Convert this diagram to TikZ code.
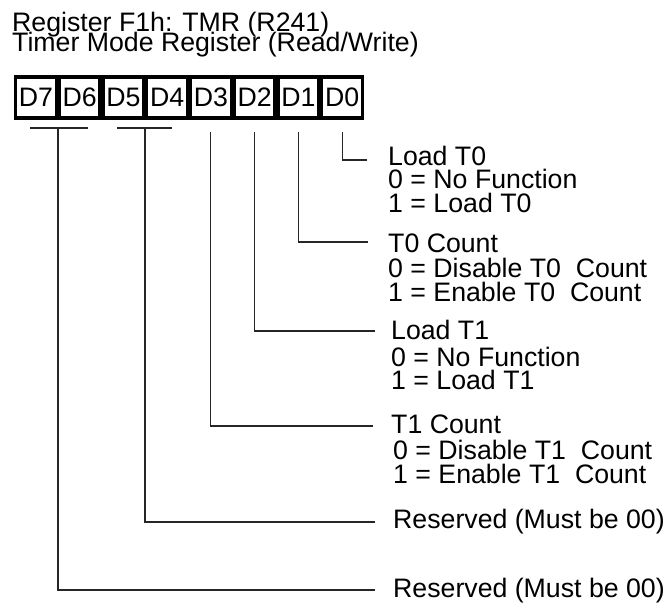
\documentclass[tikz,border=0pt]{standalone}
\usepackage{fontspec}
\setmainfont{Liberation Sans}
\begin{document}
\begin{tikzpicture}[x=1pt,y=-1pt,
  bitbox/.style={draw, line width=3.5pt, minimum width=41.25pt, minimum height=41pt,
    inner sep=0pt, outer sep=0pt, font=\fontsize{26.7}{25}\selectfont},
  lbl/.style={anchor=base west, inner sep=0pt, font=\fontsize{26.7}{25}\selectfont},
  conn/.style={line width=1.1pt, black!85}]
\useasboundingbox (0,0) rectangle (668,603);

% title
\node[lbl] (title1) at (12,31) {Register F1h: TMR (R241)};
\node[lbl] (title2) at (12,51) {Timer Mode Register (Read/Write)};

% register bits
\node[bitbox] (b7) at (35.9,97.5) {D7};
\node[bitbox] (b6) at (79.6,97.5) {D6};
\node[bitbox] (b5) at (123.4,97.5) {D5};
\node[bitbox] (b4) at (167.1,97.5) {D4};
\node[bitbox] (b3) at (210.9,97.5) {D3};
\node[bitbox] (b2) at (254.6,97.5) {D2};
\node[bitbox] (b1) at (298.4,97.5) {D1};
\node[bitbox] (b0) at (342.1,97.5) {D0};

% descriptions
\node[lbl] (l0a) at (388,165) {Load T0};
\node[lbl] (l0b) at (388,188) {0 = No Function};
\node[lbl] (l0c) at (388,212) {1 = Load T0};

\node[lbl] (l1a) at (388,252) {T0 Count};
\node[lbl] (l1b) at (388,277) {0 = Disable T0\ \ Count};
\node[lbl] (l1c) at (388,301) {1 = Enable T0\ \ Count};

\node[lbl] (l2a) at (391,339) {Load T1};
\node[lbl] (l2b) at (391,366) {0 = No Function};
\node[lbl] (l2c) at (391,389) {1 = Load T1};

\node[lbl] (l3a) at (391,433) {T1 Count};
\node[lbl] (l3b) at (393,459) {0 = Disable T1\ \ Count};
\node[lbl] (l3c) at (393,483) {1 = Enable T1\ \ Count};

\node[lbl] (l54) at (393,528) {Reserved (Must be 00)};
\node[lbl] (l76) at (393,597) {Reserved (Must be 00)};

% connector coordinates
\coordinate (s0) at (b0.south |- 0,132);
\coordinate (e0) at (367,160);
\coordinate (s1) at (b1.south |- 0,132);
\coordinate (e1) at (368,242);
\coordinate (s2) at (b2.south |- 0,132);
\coordinate (e2) at (375,331);
\coordinate (s3) at (b3.south |- 0,132);
\coordinate (e3) at (373,426);
\coordinate (p54l) at (117,128);
\coordinate (p54r) at (172,128);
\coordinate (s54) at (145,128);
\coordinate (e54) at (375,522);
\coordinate (p76l) at (30,128);
\coordinate (p76r) at (88,128);
\coordinate (s76) at (58,128);
\coordinate (e76) at (375,590);

% connectors
\draw[conn] (s0) |- (e0);
\draw[conn] (s1) |- (e1);
\draw[conn] (s2) |- (e2);
\draw[conn] (s3) |- (e3);
\draw[conn] (p54l) -- (p54r);
\draw[conn] (s54) |- (e54);
\draw[conn] (p76l) -- (p76r);
\draw[conn] (s76) |- (e76);
\end{tikzpicture}
\end{document}
